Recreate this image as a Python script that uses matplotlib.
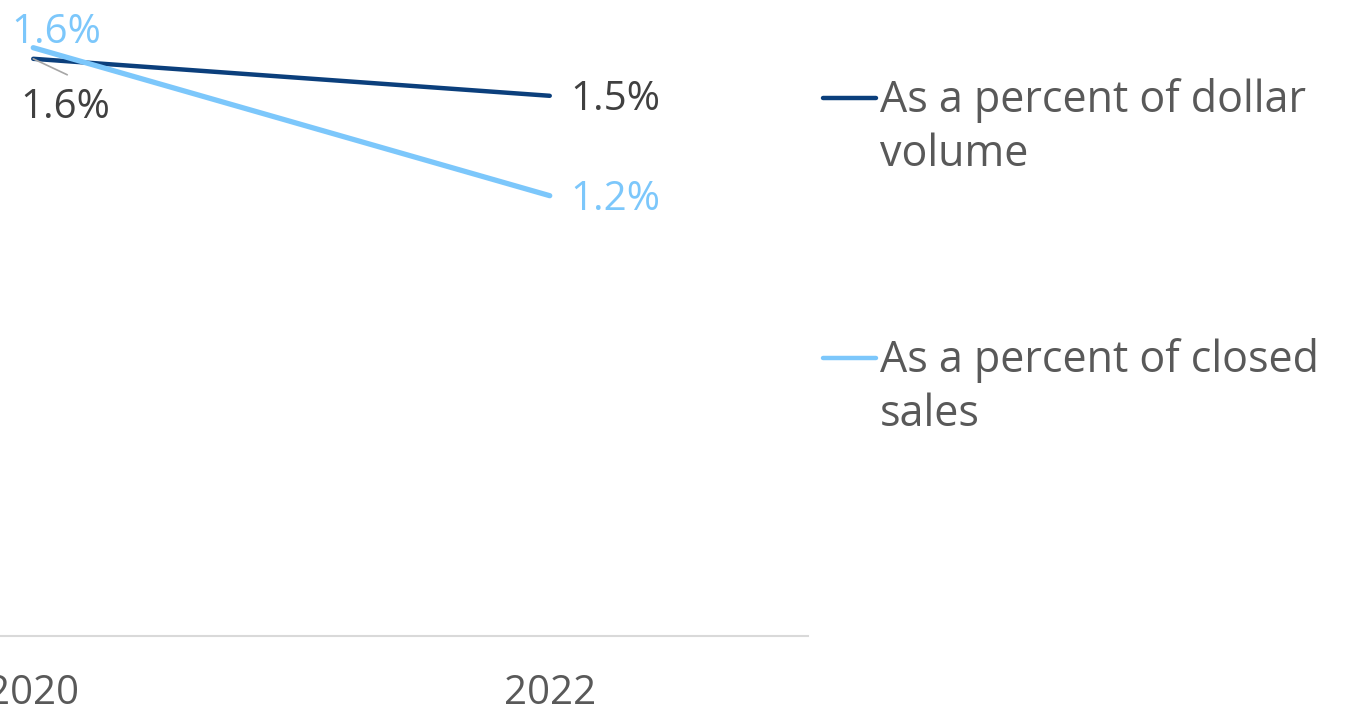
import matplotlib.pyplot as plt
from matplotlib.lines import Line2D

years = ['2020', '2022']
dollar_volume = [1.56, 1.46]
closed_sales = [1.59, 1.19]
dollar_labels = ['1.6%', '1.5%']
closed_labels = ['1.6%', '1.2%']
legend_labels = ['As a percent of dollar\nvolume', 'As a percent of closed\nsales']

dark = '#0b3f7c'
light = '#7cc7fb'
grey_text = '#595959'
label_dark = '#404040'

plt.rcParams['font.family'] = ['Open Sans', 'DejaVu Sans']

W, H = 1364, 709
fig = plt.figure(figsize=(W / 100, H / 100), dpi=100)
# axes runs past the left edge of the picture, as in the reference crop
ax = fig.add_axes([-225 / W, (H - 636) / H, 1033 / W, 629 / H])
x = range(len(years))
ax.plot(x, dollar_volume, color=dark, lw=3.2, solid_capstyle='round')
ax.plot(x, closed_sales, color=light, lw=3.8, solid_capstyle='round')
ax.set_xlim(-0.5, 1.5)
ax.set_ylim(0, 1.7)
ax.set_xticks(list(x))
ax.set_xticklabels(years, fontsize=29, color=grey_text)
ax.tick_params(axis='x', length=0, pad=27)
ax.set_yticks([])
for s in ['top', 'right', 'left']:
    ax.spines[s].set_visible(False)
ax.spines['bottom'].set_color('#d9d9d9')
ax.spines['bottom'].set_linewidth(1.5)

# data labels
ax.text(0.045, 1.63, closed_labels[0], fontsize=29, color=light, ha='center', va='center')
ax.text(0.062, 1.428, dollar_labels[0], fontsize=29, color=label_dark, ha='center', va='center')
ax.annotate('', (0, dollar_volume[0]), xytext=(34, -16), textcoords='offset pixels',
            arrowprops=dict(arrowstyle='-', color='#a6a6a6', lw=1.2, shrinkA=0, shrinkB=0))
ax.annotate(dollar_labels[1], (1, dollar_volume[1]), xytext=(15, -3), textcoords='offset points',
            fontsize=29, color=label_dark, ha='left', va='center')
ax.annotate(closed_labels[1], (1, closed_sales[1]), xytext=(15, -3), textcoords='offset points',
            fontsize=29, color=light, ha='left', va='center')

# legend drawn by hand so the key lines up with the first text line
for i, (lab, col) in enumerate(zip(legend_labels, [dark, light])):
    y = 1 - (98 + i * 260) / H
    fig.add_artist(Line2D([823 / W, 876 / W], [y, y], color=col, lw=3.2,
                          solid_capstyle='round', transform=fig.transFigure))
    fig.text(880 / W, y + 20 / H, lab, fontsize=31, color=grey_text,
             ha='left', va='top', linespacing=1.27)

fig.savefig('out.png', dpi=100)
